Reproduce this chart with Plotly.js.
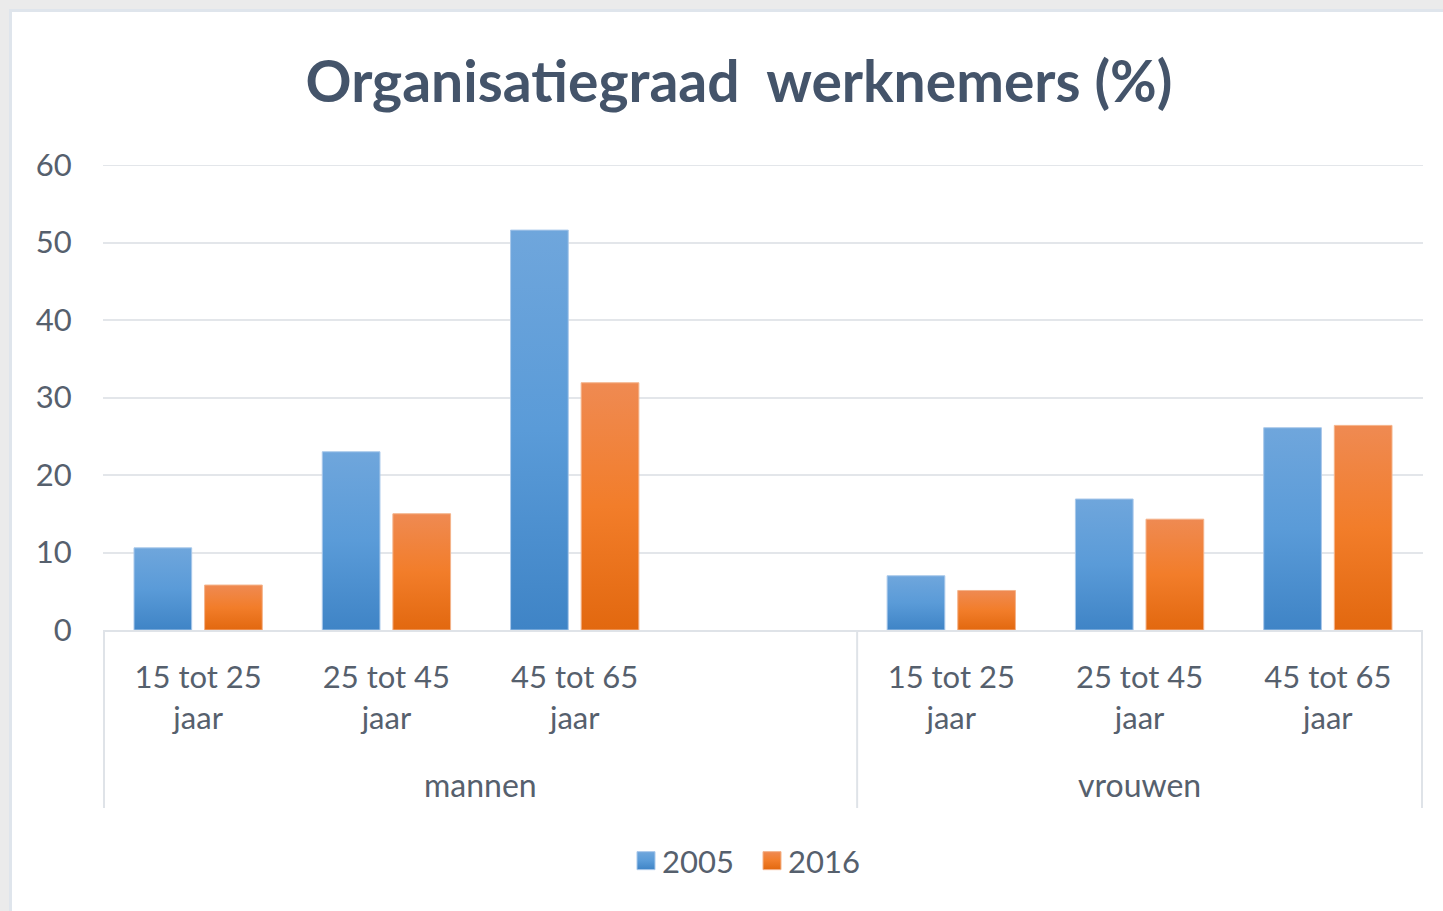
<!DOCTYPE html>
<html>
<head>
<meta charset="utf-8">
<script src="https://cdn.plot.ly/plotly-3.0.1.min.js"></script>
<style>
  html, body { margin: 0; padding: 0; background: #ffffff; }
  #chart { position: absolute; left: 0; top: 0; width: 1443px; height: 911px; }
  .edge { position: absolute; pointer-events: none; }
</style>
</head>
<body>
<div id="chart"></div>
<div class="edge" style="left:0;top:0;width:1443px;height:9px;background:#ebebeb;"></div>
<div class="edge" style="left:0;top:0;width:9px;height:911px;background:#ebebeb;"></div>
<div class="edge" style="left:9px;top:9px;width:1434px;height:3px;background:#dfe5ec;"></div>
<div class="edge" style="left:9px;top:9px;width:3px;height:902px;background:#dfe5ec;"></div>
<script>
// ---- data ----
const groups = ['mannen', 'vrouwen'];
const ageMannen = ['15 tot 25 jaar', '25 tot 45 jaar', '45 tot 65 jaar', ''];
const ageVrouwen = ['15 tot 25 jaar', '25 tot 45 jaar', '45 tot 65 jaar'];
const mannen2005 = [10.6, 23.0, 51.6, null];
const mannen2016 = [5.8, 15.0, 31.9, null];
const vrouwen2005 = [7.0, 16.9, 26.1];
const vrouwen2016 = [5.1, 14.3, 26.4];
const seriesNames = ['2005', '2016'];
const yTicks = [0, 10, 20, 30, 40, 50, 60];

// ---- build categories ----
const catIds = [], catText = [];
const groupAges = [ageMannen, ageVrouwen];
const groupStart = [];
groupAges.forEach((ages, gi) => {
  groupStart.push(catIds.length);
  ages.forEach((a, ai) => {
    catIds.push(groups[gi] + '|' + ai);
    catText.push(a ? a.replace(' jaar', '<br>jaar') : ' ');
  });
});
const y2005 = mannen2005.concat(vrouwen2005);
const y2016 = mannen2016.concat(vrouwen2016);

const font = 'Lato, "Open Sans", sans-serif';
const textColor = '#56606d';
const gridColor = '#e3e6ea';

const traces = [
  { type: 'bar', name: seriesNames[0], x: catIds, y: y2005,
    marker: { color: '#5b9bd5', line: { color: '#a9c8ea', width: 1 } }, hoverinfo: 'y+name' },
  { type: 'bar', name: seriesNames[1], x: catIds, y: y2016,
    marker: { color: '#ed7d31', line: { color: '#f4b38a', width: 1 } }, hoverinfo: 'y+name' }
];

// group dividers and labels
const shapes = [];
const annotations = [];
const divY = -(808 - 630) / 465;
let bounds = [-0.5];
groupAges.forEach((ages, gi) => {
  const s = groupStart[gi], e = s + ages.length - 1;
  bounds.push(e + 0.5);
  annotations.push({ x: (s + e) / 2, xref: 'x', y: -(784 - 630) / 465, yref: 'paper',
    text: groups[gi], showarrow: false, yanchor: 'middle',
    font: { family: font, size: 32, color: textColor } });
});
bounds.forEach(b => shapes.push({ type: 'line', xref: 'x', yref: 'paper', x0: b, x1: b, y0: 0, y1: divY,
  line: { color: '#dfe3e8', width: 2 } }));
// top gridline (Plotly hides the one on the plot edge)
const yMax = yTicks[yTicks.length - 1];
shapes.push({ type: 'line', xref: 'paper', yref: 'y', x0: 0, x1: 1, y0: yMax, y1: yMax, layer: 'below',
  line: { color: gridColor, width: 2 } });

const layout = {
  width: 1443, height: 911,
  margin: { l: 103, r: 20, t: 165, b: 281 },
  paper_bgcolor: '#ffffff', plot_bgcolor: '#ffffff',
  title: { text: 'Organisatiegraad  werknemers (%)', x: 739 / 1443, xanchor: 'center', y: 1 - 82 / 911, yanchor: 'middle',
    font: { family: font, size: 57, color: '#44546a', weight: 'bold' } },
  barmode: 'group', bargap: 0.25, bargroupgap: 0.183,
  xaxis: { type: 'category', categoryorder: 'array', categoryarray: catIds,
    tickmode: 'array', tickvals: catIds, ticktext: catText,
    ticks: 'outside', ticklen: 19, tickcolor: 'rgba(0,0,0,0)',
    showline: true, linecolor: '#dfe3e8', linewidth: 2, showgrid: false,
    tickfont: { family: font, size: 31, color: textColor }, fixedrange: true },
  yaxis: { range: [0, yMax], tickmode: 'array', tickvals: yTicks, showgrid: true, gridcolor: gridColor, gridwidth: 2,
    zeroline: false, showline: false,
    ticks: 'outside', ticklen: 24, tickcolor: 'rgba(0,0,0,0)',
    tickfont: { family: font, size: 31, color: textColor }, fixedrange: true },
  showlegend: true,
  legend: { orientation: 'h', x: (748 - 103) / 1320, xanchor: 'center', y: (630 - 861) / 465, yanchor: 'middle',
    font: { family: font, size: 31, color: textColor }, itemwidth: 30, entrywidth: 81 },
  shapes: shapes, annotations: annotations
};

Plotly.newPlot('chart', traces, layout, { displayModeBar: false, staticPlot: true }).then(gd => {
  const svg = gd.querySelector('svg.main-svg');
  const ns = 'http://www.w3.org/2000/svg';
  const defs = document.createElementNS(ns, 'defs');
  const mk = (id, c1, c2, c3) => {
    const g = document.createElementNS(ns, 'linearGradient');
    g.setAttribute('id', id); g.setAttribute('x1', '0'); g.setAttribute('y1', '0');
    g.setAttribute('x2', '0'); g.setAttribute('y2', '1');
    [[0, c1], [0.5, c2], [1, c3]].forEach(([o, c]) => {
      const s = document.createElementNS(ns, 'stop');
      s.setAttribute('offset', o); s.setAttribute('stop-color', c); g.appendChild(s);
    });
    defs.appendChild(g);
  };
  mk('gBlue', '#6fa6dc', '#5a9bd8', '#3f84c6');
  mk('gOrange', '#ef8a52', '#f27d2a', '#e2680f');
  svg.insertBefore(defs, svg.firstChild);
  const ids = ['gBlue', 'gOrange'];
  gd.querySelectorAll('.barlayer .trace').forEach((t, i) => {
    t.querySelectorAll('path').forEach(p => { p.style.fill = 'url(#' + ids[i] + ')'; });
  });
  gd.querySelectorAll('.legend .traces').forEach((t, i) => {
    const lp = t.querySelector('.legendpoints');
    if (lp) lp.setAttribute('transform', 'translate(4,0)');
    t.querySelectorAll('.legendpoints path').forEach(p => {
      p.setAttribute('d', 'M9,9H-9V-9H9Z');
      p.style.fill = 'url(#' + ids[i] + ')';
    });
  });
});
</script>
</body>
</html>
